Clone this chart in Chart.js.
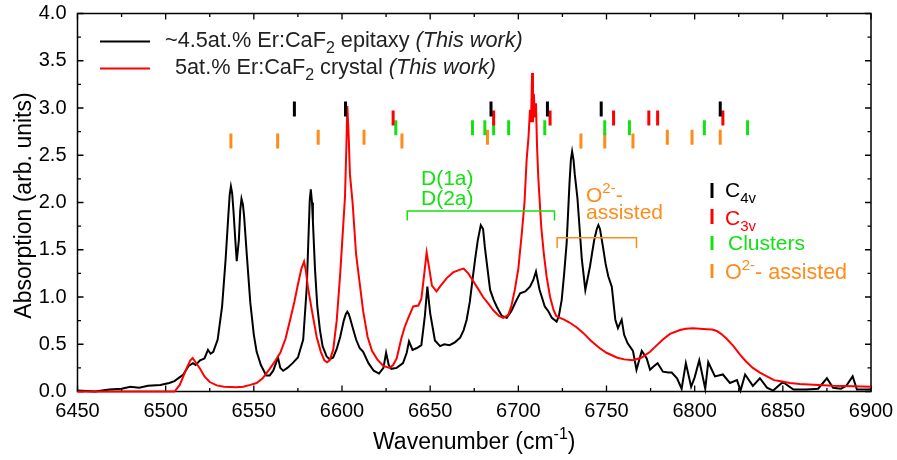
<!DOCTYPE html>
<html><head><meta charset="utf-8">
<script src="https://cdn.jsdelivr.net/npm/chart.js@4.4.1/dist/chart.umd.min.js"></script>
<style>html,body{margin:0;padding:0;background:#fff;}#wrap{width:897px;height:460px;position:relative;}</style>
</head><body><div id="wrap"><canvas id="c" width="897" height="460"></canvas></div>
<script>
// ---------- tick labels ----------
const xTicks = [6450,6500,6550,6600,6650,6700,6750,6800,6850,6900];
const yTicks = [0,0.5,1.0,1.5,2.0,2.5,3.0,3.5,4.0];

// ---------- ~4.5at.% Er:CaF2 epitaxy ----------
const epitaxyWn = [6450,6460,6468,6475,6480,6485,6490,6497,6502,6505,6510,6513,6515.5,6517,6519.5,6522,6524,6525.5,6527,6529.5,6532,6534,6535.5,6536.3,6537,6537.7,6538.5,6539.5,6540.3,6541.5,6542.3,6543,6543.8,6544.5,6546,6548,6550,6551.6,6554,6557,6559,6561,6563.7,6565,6566.6,6569,6572,6575,6578,6580,6581,6581.7,6582.3,6583,6583.5,6584.7,6586,6587.5,6589,6591.3,6593,6595,6597,6599,6601,6602.2,6603,6603.8,6604.5,6606,6608,6610,6612,6615,6618,6621,6623.5,6625,6626.5,6628,6631,6634.6,6636.7,6638,6640,6642.5,6645,6647,6648.4,6650,6652.7,6655.6,6658,6661,6664,6667,6669,6670.7,6672.5,6674,6675.5,6677,6678.7,6680,6681,6682.5,6684,6686,6687.7,6690.6,6693.4,6696,6698.5,6701,6704,6706.6,6708.5,6710,6712,6715,6717,6719,6721.7,6723,6724.6,6726,6727.4,6729,6729.8,6730.5,6731.3,6732,6733.5,6736,6738,6740.6,6743,6744.5,6745.4,6746.3,6748,6749.5,6751,6753,6755,6756.5,6758.6,6760,6762,6765,6767,6770,6772.8,6774.7,6777,6779,6782,6785,6787,6790,6792.6,6795,6798,6800,6802.6,6806,6807.7,6811.5,6816,6820,6824,6826,6828.6,6833,6837,6841,6844.5,6850,6856,6863.5,6870,6875,6878.5,6883,6886,6889.6,6892,6897.6,6900];
const epitaxyAbs = [0.01,0.0,0.02,0.03,0.05,0.04,0.06,0.07,0.09,0.11,0.18,0.27,0.30,0.28,0.33,0.35,0.44,0.40,0.42,0.55,0.9,1.4,1.85,2.08,2.17,2.1,1.9,1.6,1.38,1.6,1.92,2.04,1.98,1.85,1.45,0.94,0.6,0.42,0.28,0.17,0.17,0.22,0.36,0.25,0.22,0.25,0.30,0.36,0.55,1.1,1.64,2.02,2.14,2.0,1.8,1.29,0.9,0.65,0.48,0.37,0.34,0.36,0.45,0.58,0.75,0.82,0.845,0.82,0.78,0.68,0.55,0.46,0.42,0.30,0.22,0.19,0.25,0.41,0.28,0.24,0.25,0.30,0.41,0.53,0.44,0.46,0.49,0.80,1.11,0.83,0.54,0.48,0.50,0.49,0.52,0.57,0.65,0.76,0.95,1.18,1.40,1.6,1.76,1.72,1.53,1.3,1.075,0.97,0.90,0.80,0.78,0.85,0.95,1.04,1.06,1.11,1.18,1.27,1.08,0.90,0.85,0.78,0.74,0.8,0.97,1.25,1.57,2.2,2.45,2.54,2.45,2.3,2.05,1.40,1.075,1.32,1.6,1.72,1.76,1.72,1.53,1.35,1.22,1.11,0.76,0.67,0.76,0.60,0.51,0.43,0.23,0.43,0.35,0.23,0.27,0.30,0.21,0.20,0.20,0.14,0.03,0.30,0.05,0.15,0.33,0.03,0.31,0.16,0.18,0.09,0.12,0.01,0.18,0.06,0.14,0.04,0.01,0.10,0.02,0.02,0.03,0.14,0.04,0.03,0.06,0.16,0.02,0.02,0.02];

// ---------- 5at.% Er:CaF2 crystal ----------
const crystalWn = [6450,6480,6505,6508,6510,6512,6514,6515.3,6517,6519.5,6522,6525,6529,6533,6540,6544,6548,6551.6,6555,6559,6562,6565,6568,6570.6,6573,6575.2,6577,6578.5,6579.5,6580.7,6583,6585.6,6588,6590,6591.5,6593,6595,6597,6599,6600.5,6601.7,6602.5,6603,6603.7,6604.5,6606,6608,6610,6612,6614.5,6617,6620,6623.4,6627,6629,6631,6633.5,6635.5,6637.6,6640.4,6643.3,6645,6646.5,6648,6649.5,6651,6653.6,6656,6659.4,6663,6667,6669,6671.6,6674,6676.4,6680,6683,6685.8,6689,6691.5,6694.3,6696,6698,6700,6702,6703.5,6704.7,6705.8,6706.6,6707.2,6707.8,6708.3,6708.8,6709.4,6710,6710.6,6711.3,6713,6714.5,6716,6718,6720,6721.5,6723.6,6726,6729,6733,6736.8,6741,6746,6750,6755.8,6760,6765,6770,6774.7,6778,6782,6786,6791.7,6795,6799,6803,6806.8,6810,6812.5,6815,6818,6822,6825.7,6829,6833,6837,6841,6845,6848,6854,6859.6,6870,6878.5,6890,6900];
const crystalAbs = [0,0,0,0.07,0.16,0.25,0.33,0.355,0.31,0.24,0.16,0.10,0.065,0.05,0.045,0.05,0.07,0.09,0.14,0.24,0.32,0.41,0.56,0.76,0.95,1.15,1.3,1.375,1.28,1.1,0.85,0.58,0.42,0.33,0.31,0.33,0.44,0.75,1.25,1.7,2.06,2.6,3.02,2.75,2.3,2.0,1.45,1.15,0.85,0.58,0.43,0.34,0.27,0.25,0.28,0.35,0.55,0.68,0.78,0.90,0.91,0.98,1.22,1.47,1.3,1.12,1.06,1.12,1.2,1.26,1.29,1.3,1.25,1.18,1.11,1.0,0.93,0.86,0.80,0.78,0.81,0.9,1.075,1.3,1.68,2.0,2.45,2.7,2.98,2.85,3.37,2.85,3.15,2.9,3.05,2.6,2.27,1.74,1.45,1.22,1.0,0.86,0.8,0.78,0.76,0.73,0.68,0.62,0.54,0.46,0.41,0.36,0.34,0.33,0.36,0.42,0.48,0.55,0.61,0.65,0.665,0.67,0.665,0.66,0.655,0.64,0.61,0.56,0.48,0.39,0.32,0.25,0.2,0.16,0.12,0.11,0.09,0.08,0.07,0.06,0.055,0.05];

// ---------- site markers (wavenumbers) ----------
const c4vWn = [6573,6602,6684.5,6716.5,6747,6814.5];
const c3vWn = [6629,6686,6718,6754,6774,6779,6816];
const clusterWn = [6630.5,6674,6681,6686,6694.5,6715,6749,6763,6805.5,6830];
const oxyWn = [6537,6563.5,6586.5,6612.5,6634,6682.5,6735.5,6749,6765,6784.5,6798.5,6814.5];
const oxyLevel = [2.65,2.65,2.69,2.69,2.65,2.69,2.65,2.65,2.65,2.69,2.69,2.69];
const c4vLevel = 2.99, c3vLevel = 2.895, clusterLevel = 2.79;

// ---------- annotation brackets (data units) ----------
const greenBracket = {from:6637, to:6720.5, y:1.91, drop:0.1};
const orangeBracket = {from:6722, to:6767, y:1.628, drop:0.11};

const GREEN = '#14e014', ORANGE = '#ff8c1a', RED = '#ff0000';
const FAM = '"Liberation Sans", Arial, sans-serif';
Chart.defaults.font.family = FAM;

const pts = (xs, ys) => xs.map((x,i)=>({x, y: ys[i]}));
const lvl = (xs, l) => xs.map((x,i)=>({x, y: Array.isArray(l)? l[i] : l}));

function rich(ctx, x, y, parts, color, align) {
  ctx.fillStyle = color;
  ctx.textBaseline = 'alphabetic';
  ctx.textAlign = 'left';
  let w = 0;
  for (const p of parts) { ctx.font = `${p.st||''} ${p.s}px ${FAM}`; w += ctx.measureText(p.t).width; }
  let cx = align === 'center' ? x - w/2 : x;
  for (const p of parts) {
    ctx.font = `${p.st||''} ${p.s}px ${FAM}`;
    ctx.fillText(p.t, cx, y + (p.dy||0));
    cx += ctx.measureText(p.t).width;
  }
}

const framePlugin = {
  id: 'frame',
  beforeDatasetsDraw(chart) {
    const {ctx, chartArea: a, scales: {x, y}} = chart;
    ctx.save();
    ctx.strokeStyle = '#000';
    ctx.lineWidth = 1.5;
    ctx.strokeRect(a.left, a.top, a.right - a.left, a.bottom - a.top);
    ctx.lineWidth = 1.3;
    ctx.beginPath();
    const xs = xTicks, ys = yTicks;
    const tick = (px, len, horiz) => {
      if (horiz) { ctx.moveTo(px, a.bottom); ctx.lineTo(px, a.bottom - len); ctx.moveTo(px, a.top); ctx.lineTo(px, a.top + len); }
      else { ctx.moveTo(a.left, px); ctx.lineTo(a.left + len, px); ctx.moveTo(a.right, px); ctx.lineTo(a.right - len, px); }
    };
    xs.forEach((v,i)=>{ tick(x.getPixelForValue(v), 6, true); if (i < xs.length-1) tick(x.getPixelForValue((v + xs[i+1])/2), 3.5, true); });
    ys.forEach((v,i)=>{ tick(y.getPixelForValue(v), 6, false); if (i < ys.length-1) tick(y.getPixelForValue((v + ys[i+1])/2), 3.5, false); });
    ctx.stroke();
    ctx.restore();
  },
  afterDatasetsDraw(chart) {
    const {ctx, chartArea: a, scales: {x, y}} = chart;
    ctx.save();
    // legend (top-left)
    ctx.lineWidth = 2;
    ctx.strokeStyle = '#000'; ctx.beginPath(); ctx.moveTo(100, 41.5); ctx.lineTo(150, 41.5); ctx.stroke();
    ctx.strokeStyle = RED; ctx.beginPath(); ctx.moveTo(100, 68.5); ctx.lineTo(150, 68.5); ctx.stroke();
    rich(ctx, 165, 47, [{t:'~4.5at.% Er:CaF',s:21.7},{t:'2',s:16,dy:6},{t:' epitaxy ',s:21.7},{t:'(This work)',s:21.7,st:'italic'}], '#222');
    rich(ctx, 175, 74, [{t:'5at.% Er:CaF',s:21.7},{t:'2',s:16,dy:6},{t:' crystal ',s:21.7},{t:'(This work)',s:21.7,st:'italic'}], '#222');

    // brackets
    const bracket = (b, col) => {
      const x1 = x.getPixelForValue(b.from), x2 = x.getPixelForValue(b.to);
      const yy = y.getPixelForValue(b.y), yd = y.getPixelForValue(b.y - b.drop);
      ctx.strokeStyle = col; ctx.lineWidth = 1.5; ctx.beginPath();
      ctx.moveTo(x1, yd); ctx.lineTo(x1, yy); ctx.lineTo(x2, yy); ctx.lineTo(x2, yd); ctx.stroke();
    };
    bracket(greenBracket, GREEN);
    bracket(orangeBracket, ORANGE);
    rich(ctx, 421, 185, [{t:'D(1a)',s:21}], GREEN);
    rich(ctx, 421, 205, [{t:'D(2a)',s:21}], GREEN);
    rich(ctx, 586, 202, [{t:'O',s:21},{t:'2-',s:15,dy:-9},{t:'-',s:21}], ORANGE);
    rich(ctx, 586, 219, [{t:'assisted',s:21}], ORANGE);

    // site legend (right)
    const mark = (yt, yb, col) => { ctx.strokeStyle = col; ctx.lineWidth = 3; ctx.beginPath(); ctx.moveTo(712, yt); ctx.lineTo(712, yb); ctx.stroke(); };
    mark(183, 198, '#000'); mark(209, 224, RED); mark(236, 250, GREEN); mark(264, 278, ORANGE);
    rich(ctx, 725, 197, [{t:'C',s:21},{t:'4v',s:15,dy:6}], '#000');
    rich(ctx, 725, 225, [{t:'C',s:21},{t:'3v',s:15,dy:6}], RED);
    rich(ctx, 728, 250, [{t:'Clusters',s:21}], GREEN);
    rich(ctx, 725, 279, [{t:'O',s:21.5},{t:'2-',s:15,dy:-9},{t:'- assisted',s:21.5}], ORANGE);

    // axis titles
    rich(ctx, (a.left + a.right)/2, 449, [{t:'Wavenumber (cm',s:23},{t:'-1',s:16,dy:-10},{t:')',s:23}], '#000', 'center');
    ctx.save();
    ctx.translate(31, (a.top + a.bottom)/2 + 3);
    ctx.rotate(-Math.PI/2);
    rich(ctx, 0, 0, [{t:'Absorption (arb. units)',s:23}], '#000', 'center');
    ctx.restore();
    ctx.restore();
  }
};

const markerDs = (data, col, order) => ({
  type: 'scatter', data, showLine: false, pointStyle: 'line', rotation: 90,
  pointRadius: 7.5, pointHoverRadius: 7.5, borderColor: col, backgroundColor: col, pointBorderWidth: 3, borderWidth: 3, order
});

new Chart(document.getElementById('c'), {
  type: 'line',
  data: {
    datasets: [
      markerDs(lvl(c4vWn, c4vLevel), '#000', -4),
      markerDs(lvl(c3vWn, c3vLevel), RED, -3),
      markerDs(lvl(clusterWn, clusterLevel), GREEN, -2),
      markerDs(lvl(oxyWn, oxyLevel), ORANGE, -1),
      {label:'5at.% Er:CaF2 crystal', data: pts(crystalWn, crystalAbs), borderColor: RED, borderWidth: 2, pointRadius: 0, tension: 0, clip: false, order: 0},
      {label:'~4.5at.% Er:CaF2 epitaxy', data: pts(epitaxyWn, epitaxyAbs), borderColor: '#000', borderWidth: 2, pointRadius: 0, tension: 0, clip: false, order: 1}
    ]
  },
  options: {
    responsive: false, animation: false, devicePixelRatio: 1,
    layout: {padding: {left: 0, right: 26, top: 13.5, bottom: 0}},
    plugins: {legend: {display: false}, tooltip: {enabled: false}},
    scales: {
      x: {type: 'linear', min: 6450, max: 6900,
          grid: {display: false, drawTicks: false}, border: {display: false},
          afterBuildTicks: s => { s.ticks = xTicks.map(v => ({value: v})); },
          afterFit: s => { s.height = 68.5; s.paddingLeft = 0; s.paddingRight = 0; },
          ticks: {color: '#000', font: {size: 20}, padding: 8, maxRotation: 0, autoSkip: false, callback: v => String(v)}},
      y: {type: 'linear', min: 0, max: 4,
          grid: {display: false, drawTicks: false}, border: {display: false},
          afterBuildTicks: s => { s.ticks = yTicks.map(v => ({value: v})); },
          afterFit: s => { s.width = 77.5; s.paddingTop = 0; s.paddingBottom = 0; },
          ticks: {color: '#000', font: {size: 20}, padding: 11, callback: v => Number(v).toFixed(1)}}
    }
  },
  plugins: [framePlugin]
});
</script></body></html>
